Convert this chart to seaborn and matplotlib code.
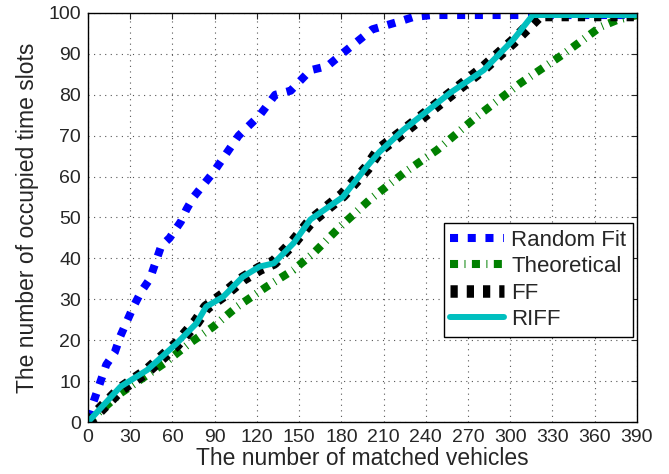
import matplotlib
matplotlib.use("Agg")
import matplotlib.pyplot as plt
import seaborn as sns
import pandas as pd

# values
rf_x = [0, 5, 13, 19, 23, 32, 38, 44, 52, 58, 66, 70, 75, 89, 107, 122, 133, 144, 158, 170, 184, 202, 222, 231, 244, 390]
rf_y = [1, 6, 14, 17, 21, 28, 32, 35, 43, 45, 49, 52, 55, 61, 70, 75, 80, 81, 86, 87, 91, 96, 98, 99, 99.5, 99.5]

th_x = [0, 23, 54, 72, 89, 106, 127, 146, 160, 179, 200, 224, 248, 276, 307, 338, 364, 376, 390]
th_y = [0, 7, 14.3, 19.2, 23.3, 28.2, 33.1, 37.2, 41.2, 47.7, 54.3, 60.8, 66.5, 74.6, 82.8, 90, 96.6, 98.3, 99.5]

ff_x = [0, 23, 42, 63, 77, 84, 96, 110, 122, 132, 146, 158, 181, 198, 207, 224, 257, 281, 302, 318, 321, 390]
ff_y = [0, 8, 12.5, 19, 24.5, 28, 31, 35, 37.5, 39, 44, 49, 55.5, 62, 66.5, 71, 80, 86.5, 93, 98.5, 99.5, 99.5]

riff_x = [0, 23, 42, 63, 77, 84, 96, 110, 122, 132, 146, 158, 181, 198, 207, 224, 257, 281, 302, 316, 320, 390]
riff_y = [0, 8.6, 12.7, 19.2, 24.1, 28.2, 30.6, 35.5, 38, 38.8, 43.7, 49.5, 55, 62.4, 66, 71.4, 80.4, 86, 93.4, 99.5, 99.5, 99.5]

sns.set_style("white")
plt.rcParams['font.family'] = ['Liberation Sans', 'DejaVu Sans']

fig = plt.figure(figsize=(6.69, 4.74), dpi=100)
ax = fig.add_axes([0.1315, 0.1097, 0.8206, 0.8629])

sns.lineplot(x=rf_x, y=rf_y, ax=ax, color='#0000ff', lw=5.8,
             linestyle=(0, (1, 1.2)), dash_capstyle='butt', label='Random Fit')
sns.lineplot(x=th_x, y=th_y, ax=ax, color='#008000', lw=5.8,
             linestyle=(0, (1, 0.8, 0.12, 0.8)), dash_capstyle='butt', label='Theoretical')
sns.lineplot(x=ff_x, y=ff_y, ax=ax, color='black', lw=9,
             linestyle=(0, (0.58, 0.72)), dash_capstyle='butt', label='FF')
sns.lineplot(x=riff_x, y=riff_y, ax=ax, color='#00bfbf', lw=4.3, label='RIFF')

ax.set_xlim(0, 390)
ax.set_ylim(0, 100)
ax.set_xticks(range(0, 391, 30))
ax.set_yticks(range(0, 101, 10))
ax.grid(True, linestyle=(0, (1, 4)), color='#555555', lw=0.8)
ax.tick_params(direction='in', length=4, top=True, right=True, width=0.8, labelsize=14, pad=5)
for s in ax.spines.values():
    s.set_color('black')
    s.set_linewidth(1)

ax.set_xlabel('The number of matched vehicles', fontsize=16.5, labelpad=1)
ax.set_ylabel('The number of occupied time slots', fontsize=16.5, labelpad=7)

leg = ax.legend(loc='lower right', bbox_to_anchor=(0.993, 0.208), fontsize=16,
                frameon=True, fancybox=False, edgecolor='black', framealpha=1,
                handlelength=2.4, borderpad=0.3, labelspacing=0.25, handletextpad=0.35,
                borderaxespad=0)
leg.get_frame().set_linewidth(1)

fig.savefig('out.png', dpi=100)
